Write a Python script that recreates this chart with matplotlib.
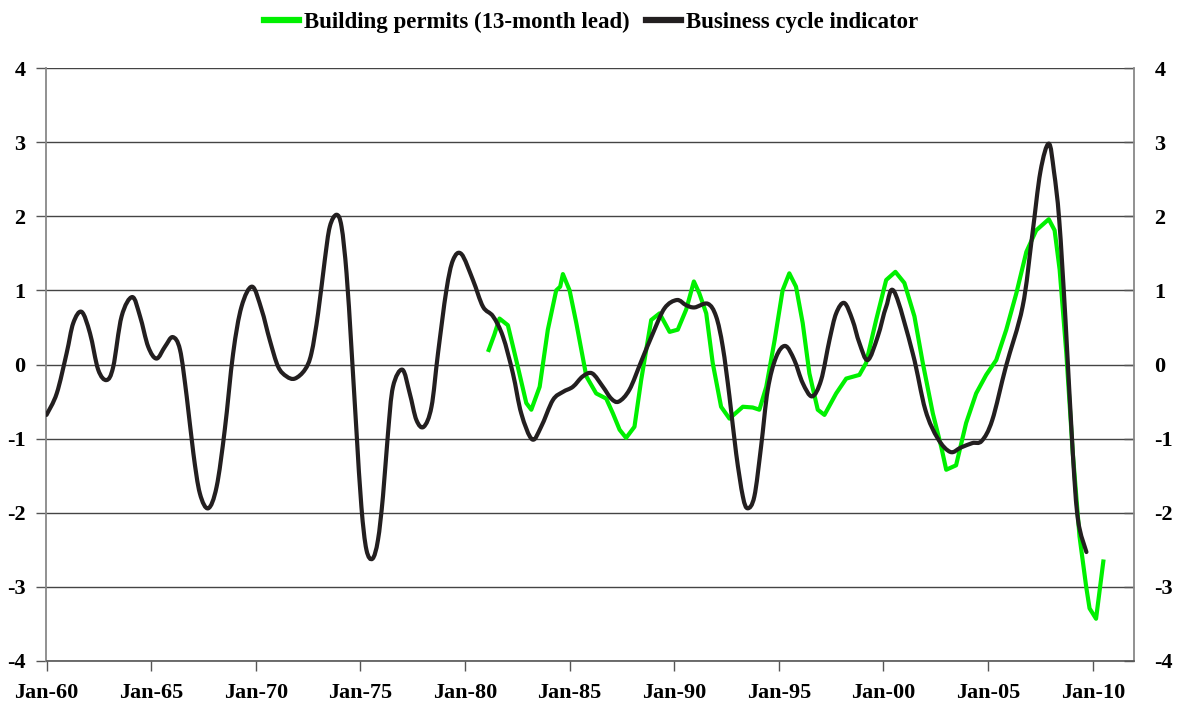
import matplotlib
matplotlib.use("Agg")
import numpy as np
import matplotlib.pyplot as plt
from matplotlib.lines import Line2D
from matplotlib.path import Path
from matplotlib.patches import PathPatch

# ---- data (decimal years) ----
bci_years = [1960.0, 1960.49, 1960.96, 1961.28, 1961.68, 1962.08, 1962.47, 1962.87, 1963.19, 1963.59,
             1964.1, 1964.47, 1964.86, 1965.26, 1965.66, 1966.03, 1966.38, 1966.7, 1967.02, 1967.33,
             1967.73, 1968.13, 1968.52, 1968.92, 1969.32, 1969.83, 1970.28, 1970.67, 1971.07, 1971.47,
             1971.87, 1972.35, 1972.66, 1972.98, 1973.3, 1973.54, 1973.86, 1974.1, 1974.34, 1974.57,
             1974.81, 1975.05, 1975.29, 1975.58, 1975.84, 1976.08, 1976.32, 1976.56, 1977.01, 1977.36,
             1977.68, 1978.03, 1978.4, 1978.71, 1979.11, 1979.43, 1979.83, 1980.38, 1980.86, 1981.34,
             1981.81, 1982.29, 1982.69, 1983.21, 1983.64, 1984.2, 1984.68, 1985.16, 1985.63, 1986.08,
             1986.59, 1986.99, 1987.35, 1987.86, 1988.42, 1988.98, 1989.54, 1990.13, 1990.57, 1990.97,
             1991.6, 1992.0, 1992.32, 1992.64, 1992.96, 1993.28, 1993.51, 1993.83, 1994.15, 1994.47,
             1994.87, 1995.31, 1995.74, 1996.14, 1996.59, 1997.02, 1997.42, 1997.74, 1998.13, 1998.52,
             1998.85, 1999.25, 1999.73, 2000.13, 2000.52, 2001.4, 2002.0, 2002.6, 2003.2, 2003.7,
             2004.25, 2004.7, 2005.2, 2005.85, 2006.65, 2007.1, 2007.5, 2007.9, 2008.15, 2008.4,
             2008.7, 2009.05, 2009.3, 2009.7]
bci_values = [-0.68, -0.39, 0.15, 0.56, 0.71, 0.42, -0.07, -0.21, -0.03, 0.65,
              0.91, 0.65, 0.24, 0.08, 0.24, 0.37, 0.2, -0.43, -1.2, -1.74,
              -1.94, -1.65, -0.88, 0.15, 0.78, 1.05, 0.74, 0.33, -0.03, -0.16,
              -0.19, -0.07, 0.15, 0.69, 1.41, 1.86, 2.02, 1.86, 1.23, 0.24,
              -0.88, -1.92, -2.5, -2.62, -2.37, -1.78, -0.93, -0.3, -0.07, -0.39,
              -0.75, -0.84, -0.57, 0.15, 1.0, 1.41, 1.49, 1.14, 0.78, 0.65,
              0.38, -0.12, -0.66, -1.01, -0.84, -0.48, -0.37, -0.3, -0.16, -0.12,
              -0.3, -0.46, -0.5, -0.34, 0.04, 0.42, 0.76, 0.87, 0.8, 0.77,
              0.82, 0.65, 0.24, -0.43, -1.2, -1.78, -1.94, -1.78, -1.11, -0.34,
              0.1, 0.25, 0.06, -0.25, -0.43, -0.21, 0.33, 0.69, 0.83, 0.6,
              0.29, 0.06, 0.38, 0.78, 0.98, 0.15, -0.61, -1.0, -1.18, -1.12,
              -1.06, -1.03, -0.75, -0.03, 0.78, 1.72, 2.6, 2.98, 2.6, 1.95,
              0.6, -1.2, -2.1, -2.53]

bp_years = [1981.1, 1981.4, 1981.65, 1982.05, 1982.45, 1982.93, 1983.17, 1983.57, 1983.96, 1984.36,
            1984.55, 1984.68, 1985.0, 1985.32, 1985.8, 1986.27, 1986.75, 1987.07, 1987.39, 1987.7,
            1988.1, 1988.42, 1988.9, 1989.3, 1989.78, 1990.17, 1990.57, 1990.94, 1991.2, 1991.53,
            1991.84, 1992.24, 1992.64, 1993.28, 1993.75, 1994.07, 1994.4, 1994.8, 1995.18, 1995.5,
            1995.82, 1996.14, 1996.46, 1996.86, 1997.18, 1997.74, 1998.22, 1998.85, 1999.17, 1999.65,
            2000.13, 2000.57, 2001.0, 2001.48, 2001.88, 2002.36, 2002.76, 2003.0, 2003.47, 2003.95,
            2004.43, 2004.91, 2005.39, 2005.87, 2006.35, 2006.83, 2007.3, 2007.9, 2008.18, 2008.42,
            2008.74, 2009.05, 2009.37, 2009.69, 2009.85, 2010.16, 2010.52]
bp_values = [0.17, 0.4, 0.62, 0.53, 0.06, -0.52, -0.61, -0.3, 0.47, 1.0,
             1.05, 1.22, 1.0, 0.56, -0.16, -0.39, -0.46, -0.66, -0.88, -0.99,
             -0.84, -0.21, 0.6, 0.69, 0.44, 0.47, 0.74, 1.12, 0.96, 0.69,
             0.02, -0.57, -0.73, -0.57, -0.58, -0.61, -0.3, 0.33, 1.0, 1.23,
             1.05, 0.56, -0.12, -0.61, -0.68, -0.39, -0.19, -0.14, 0.02, 0.6,
             1.14, 1.25, 1.1, 0.65, 0.02, -0.66, -1.11, -1.42, -1.36, -0.79,
             -0.39, -0.14, 0.06, 0.47, 0.96, 1.52, 1.81, 1.96, 1.81, 1.28,
             0.15, -1.2, -2.32, -3.0, -3.29, -3.43, -2.63]

tick_years = [1960, 1965, 1970, 1975, 1980, 1985, 1990, 1995, 2000, 2005, 2010]
tick_labels = ["Jan-60", "Jan-65", "Jan-70", "Jan-75", "Jan-80", "Jan-85",
               "Jan-90", "Jan-95", "Jan-00", "Jan-05", "Jan-10"]
y_ticks = [-4, -3, -2, -1, 0, 1, 2, 3, 4]

GREEN = "#00F000"
BLACK = "#231F20"
FONT = "Liberation Serif"


def smoothed_path(xs, ys, k=1.0 / 6.0):
    """Excel-style 'smoothed line': cubic Bezier segments through every data point."""
    pts = np.column_stack([xs, ys]).astype(float)
    n = len(pts)
    verts = [pts[0]]
    codes = [Path.MOVETO]
    for i in range(n - 1):
        p0 = pts[i - 1] if i > 0 else pts[i]
        p1 = pts[i]
        p2 = pts[i + 1]
        p3 = pts[i + 2] if i + 2 < n else pts[i + 1]
        verts += [p1 + (p2 - p0) * k, p2 - (p3 - p1) * k, p2]
        codes += [Path.CURVE4] * 3
    return Path(verts, codes)


W, H = 1177, 708
fig = plt.figure(figsize=(W / 100, H / 100), dpi=100)
ax = fig.add_axes([46.5 / W, 1 - 661 / H, (1133.5 - 46.5) / W, (661 - 68) / H])

for yv in y_ticks:
    ax.axhline(yv, color="#444444", lw=1.0, zorder=1)

ax.plot(bp_years, bp_values, color=GREEN, lw=3.0, solid_joinstyle="round",
        solid_capstyle="butt", zorder=3)
ax.add_patch(PathPatch(smoothed_path(bci_years, bci_values), facecolor="none",
                       edgecolor=BLACK, lw=3.0, capstyle="round", joinstyle="round",
                       zorder=4))

ax.set_xlim(1960.0, 2011.95)
ax.set_ylim(-4, 4)

ax.set_xticks(tick_years)
ax.set_xticklabels(tick_labels)
ax.set_yticks(y_ticks)
ax.set_yticklabels([str(v) for v in y_ticks])

ax.spines["top"].set_visible(False)
for s in ["left", "right"]:
    ax.spines[s].set_color("#888888")
    ax.spines[s].set_linewidth(1.3)
ax.spines["bottom"].set_color("#555555")
ax.spines["bottom"].set_linewidth(1.2)

ax.tick_params(axis="x", direction="out", length=7, width=1, color="#555555", pad=9,
               labelsize=16)
ax.tick_params(axis="y", left=True, right=True, labelleft=True, labelright=True,
               direction="out", length=7, width=1, color="#555555", labelsize=16, pad=8)
# right-hand ticks point into the plot
for tk in ax.yaxis.get_major_ticks():
    tk.tick2line.set_marker(0)

for lbl in ax.get_xticklabels():
    lbl.set_fontfamily(FONT)
    lbl.set_fontweight("bold")
for tk in ax.yaxis.get_major_ticks():
    for lbl in (tk.label1, tk.label2):
        lbl.set_fontfamily(FONT)
        lbl.set_fontweight("bold")
        lbl.set_fontsize(16)

handles = [Line2D([], [], color=GREEN, lw=4.5),
           Line2D([], [], color=BLACK, lw=4.5)]
fig.legend(handles, ["Building permits (13-month lead)", "Business cycle indicator"],
           loc="upper center", bbox_to_anchor=(0.502, 1.013), ncol=2, frameon=False,
           handlelength=1.55, handletextpad=0.2, columnspacing=0.7,
           prop={"family": FONT, "weight": "bold", "size": 16.5})

fig.savefig("out.png", dpi=100)
